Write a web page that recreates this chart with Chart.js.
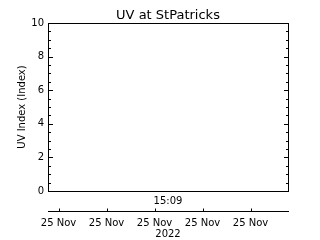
<!DOCTYPE html>
<html>
<head>
<meta charset="utf-8">
<script src="https://cdn.jsdelivr.net/npm/chart.js@4.4.0/dist/chart.umd.min.js"></script>
<style>
html, body { margin: 0; padding: 0; background: #fff; }
canvas { display: block; }
</style>
</head>
<body>
<canvas id="uvChart" width="320" height="240"></canvas>
<script>
// data
const chartTitle = 'UV at StPatricks';
const yTitle = 'UV Index (Index)';
const yTicks = [0, 2, 4, 6, 8, 10];
const xTickHours = [14.0, 14.5, 15.0, 15.5, 16.0];   // hours of the day
const xTickLabels = ['25 Nov', '25 Nov', '25 Nov', '25 Nov', '25 Nov'];
const latestTime = '15:09';
const yearLabel = '2022';
const xMin = 13.89, xMax = 16.39;
// no readings plotted in this window
const uvTimes = [];
const uvValues = [];

const font10 = { family: 'DejaVu Sans', size: 10 };

// box, inward ticks and the lower date axis
const frame = {
    id: 'frame',
    afterDraw(chart) {
        const ctx = chart.ctx;
        const a = chart.chartArea;
        const y = chart.scales.y;
        const x2 = chart.scales.x2;
        ctx.save();
        ctx.strokeStyle = '#000';
        ctx.lineWidth = 1;
        ctx.beginPath();
        ctx.rect(a.left + 0.5, a.top + 0.5, a.right - a.left, a.bottom - a.top);
        for (let v = yTicks[0]; v <= yTicks[yTicks.length - 1]; v += 0.5) {
            const py = Math.round(y.getPixelForValue(v)) + 0.5;
            const len = yTicks.includes(v) ? 5 : 3;
            ctx.moveTo(a.left, py); ctx.lineTo(a.left + len, py);
            ctx.moveTo(a.right + 1, py); ctx.lineTo(a.right + 1 - len, py);
        }
        const ly = Math.round(x2.top) + 0.5;
        ctx.moveTo(a.left, ly); ctx.lineTo(a.right + 1, ly);
        xTickHours.forEach(h => {
            const px = Math.round(x2.getPixelForValue(h)) + 0.5;
            ctx.moveTo(px, ly); ctx.lineTo(px, ly - 3);
        });
        ctx.stroke();
        ctx.restore();
    }
};

var ctx = document.getElementById('uvChart');
var uvChart = new Chart(ctx, {
    type: 'line',
    data: {
        datasets: [{
            label: 'UV',
            data: uvTimes.map((t, i) => ({ x: t, y: uvValues[i] })),
            borderColor: '#000',
            borderWidth: 1,
            pointRadius: 0
        }]
    },
    options: {
        responsive: false,
        animation: false,
        devicePixelRatio: 1,
        layout: { padding: { left: 0, right: 32, top: 0, bottom: 0 } },
        plugins: {
            legend: { display: false },
            tooltip: { enabled: false },
            title: {
                display: true,
                fullSize: false,
                text: chartTitle,
                color: '#000',
                font: { family: 'DejaVu Sans', size: 13, weight: 'normal' },
                padding: { top: 7.4, bottom: 0 }
            }
        },
        scales: {
            x: {
                type: 'linear',
                position: 'bottom',
                weight: 0,
                min: xMin,
                max: xMax,
                grid: { display: false, drawTicks: false },
                border: { display: false },
                ticks: { display: false },
                title: { display: true, text: latestTime, color: '#000', font: font10, padding: { top: 0, bottom: 4 } },
                afterFit: s => { s.height = 20; }
            },
            x2: {
                axis: 'x',
                type: 'linear',
                position: 'bottom',
                weight: 1,
                min: xMin,
                max: xMax,
                grid: { display: false, drawTicks: false },
                border: { display: false },
                afterBuildTicks: s => { s.ticks = xTickHours.map(v => ({ value: v })); },
                ticks: {
                    color: '#000',
                    font: font10,
                    padding: 6,
                    maxRotation: 0,
                    autoSkip: false,
                    callback: (v) => xTickLabels[xTickHours.indexOf(v)]
                },
                title: { display: true, text: yearLabel, color: '#000', font: font10, padding: { top: 0, bottom: 0 } },
                afterFit: s => { s.height = 29; }
            },
            y: {
                min: 0,
                max: 10,
                grid: { display: false, drawTicks: false },
                border: { display: false },
                ticks: { stepSize: 2, color: '#000', font: font10, padding: 4 },
                title: { display: true, text: yTitle, color: '#000', font: font10, padding: { top: 16, bottom: 0 } },
                afterFit: s => { s.width = 48; }
            }
        }
    },
    plugins: [frame]
});
</script>
</body>
</html>
